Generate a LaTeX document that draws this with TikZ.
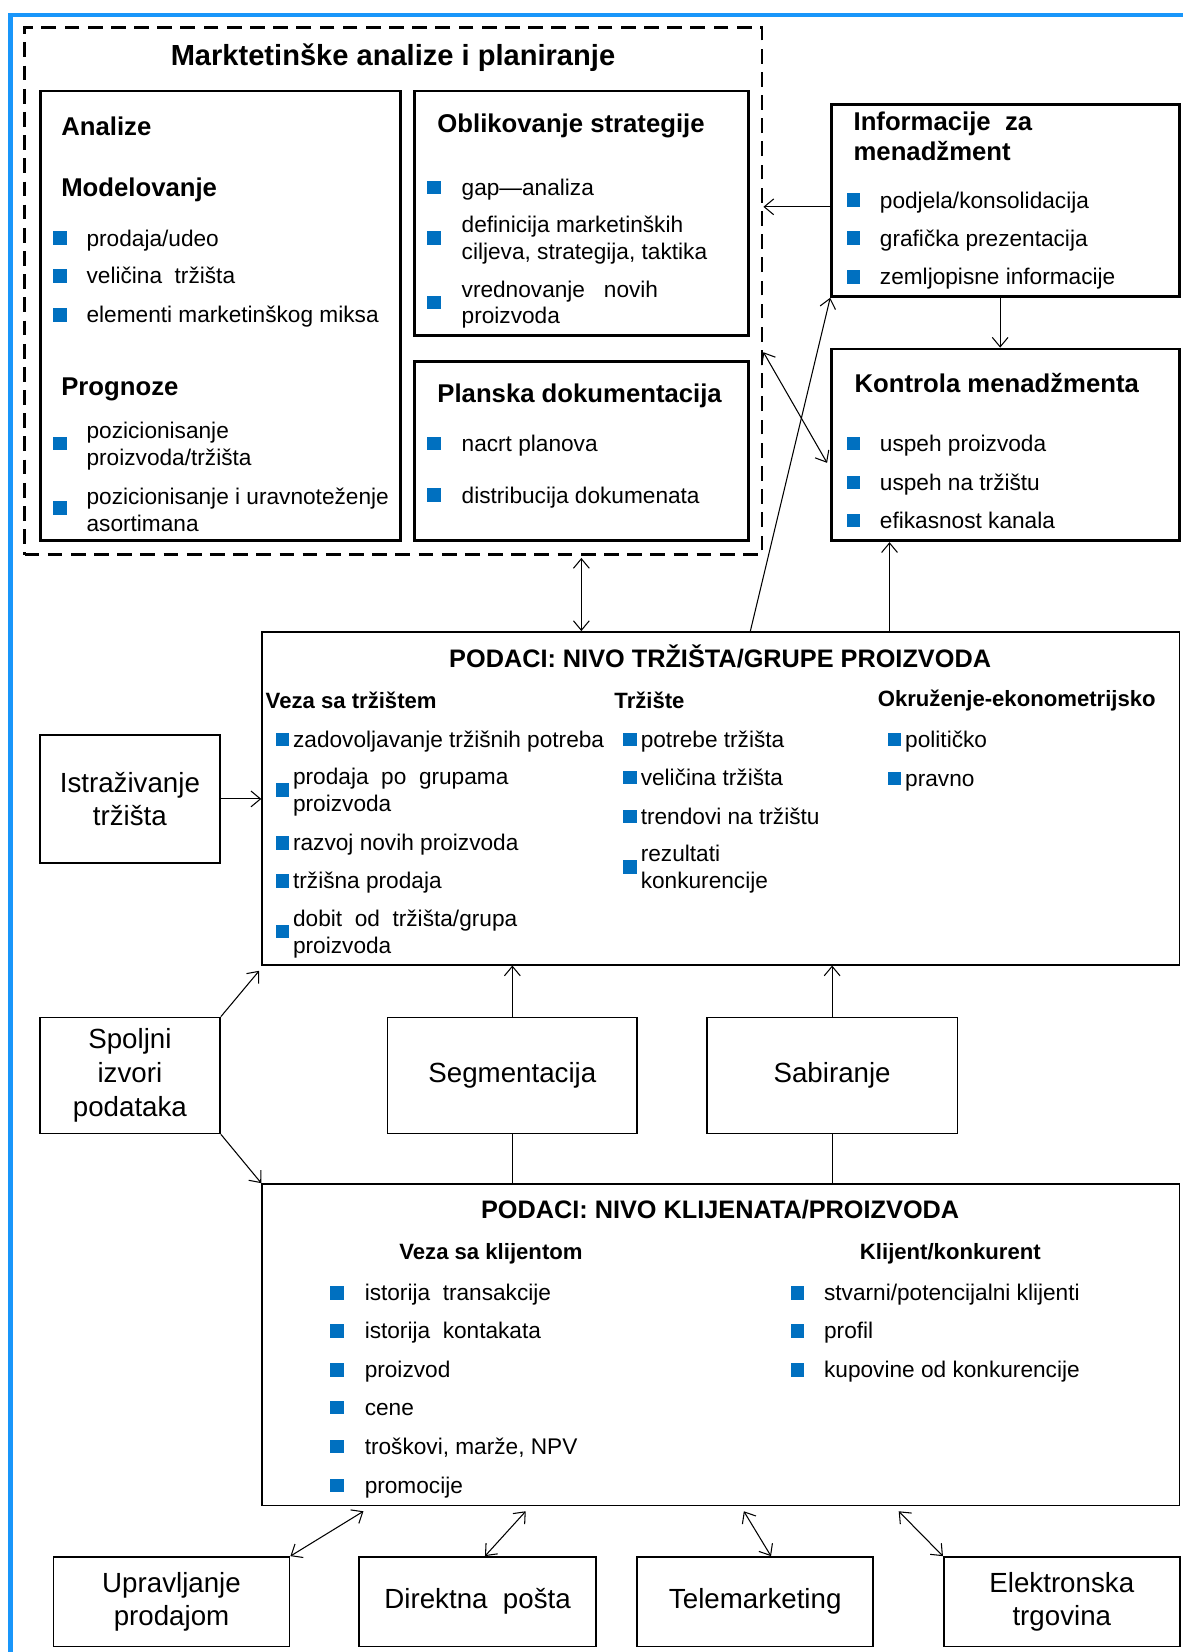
\documentclass[tikz,border=0pt]{standalone}
\usepackage{fontspec}
\setmainfont{Liberation Sans}
\usetikzlibrary{arrows.meta, positioning, calc}

\definecolor{frameblue}{RGB}{25,150,250}
\definecolor{bulblue}{RGB}{0,112,192}

% blue square bullet, centred at (x,y)
\newcommand{\bul}[2]{\fill[bulblue] (#1-6.5,#2-6.5) rectangle ++(13,13);}

\tikzset{>={Straight Barb[length=9pt,width=15pt]}}

\begin{document}
\begin{tikzpicture}[x=1pt, y=-1pt,
    thickbox/.style={draw, line width=2.6pt, anchor=north west, inner sep=0pt},
    databox/.style={draw, line width=1.4pt, anchor=north west, inner sep=0pt},
    srcbox/.style={draw, line width=1.6pt, anchor=north west, inner sep=0pt, align=center, font=\fontsize{26.3}{32}\selectfont},
    boxtitle/.style={anchor=west, inner sep=0pt, yshift=-2.5pt, font=\fontsize{24.4}{29}\selectfont\bfseries, align=left},
    datatitle/.style={inner sep=0pt, font=\fontsize{24}{29}\selectfont\bfseries},
    colhead/.style={inner sep=0pt, font=\fontsize{21}{25}\selectfont\bfseries},
    item/.style={anchor=west, inner sep=0pt, font=\fontsize{21.5}{25.5}\selectfont, text height=19pt, text depth=4pt},
    item2/.style={anchor=west, inner sep=0pt, yshift=-2.2pt, font=\fontsize{21.5}{25.5}\selectfont, align=left},
    arrow/.style={->, line width=1pt},
    dblarrow/.style={<->, line width=1pt}
]

\useasboundingbox (0,0) rectangle (1122,1568);

% outer frame
\draw[frameblue, line width=4pt] (10,1575) -- (10,14) -- (1130,14);

% Marketing analyses and planning
\node[draw, line width=2.6pt, dash pattern=on 14pt off 8pt, anchor=north west, minimum width=700, minimum height=500] (mkt) at (22,25) {};
\node[datatitle, font=\fontsize{27.6}{32}\selectfont\bfseries] (mktT) at (373,55) {Marktetinške analize i planiranje};

% Analize
\node[thickbox, minimum width=342, minimum height=427] (ana) at (37,85) {};
\node[boxtitle] (anaT) at (58,117) {Analize};
\node[boxtitle] (modT) at (58,178) {Modelovanje};
\foreach \y/\t in {226/{prodaja/udeo}, 262/{veličina\ \ tržišta}, 299/{elementi marketinškog miksa}}
  {\bul{57}{\y} \node[item] (ana\y) at (82,\y) {\t};}
\node[boxtitle] (proT) at (58,367) {Prognoze};
\bul{57}{421} \node[item2] (pro1) at (82,421) {pozicionisanje\\proizvoda/tržišta};
\bul{57}{482} \node[item2] (pro2) at (82,482) {pozicionisanje i uravnoteženje\\asortimana};

% Oblikovanje strategije
\node[thickbox, minimum width=317, minimum height=232] (obl) at (392,85) {};
\node[boxtitle] (oblT) at (415,117) {Oblikovanje strategije};
\bul{412}{178} \node[item] (obl1) at (438,178) {gap—analiza};
\bul{412}{226} \node[item2] (obl2) at (438,226) {definicija marketinških\\ciljeva, strategija, taktika};
\bul{412}{287} \node[item2] (obl3) at (438,287) {vrednovanje\ \ \ novih\\proizvoda};

% Planska dokumentacija
\node[thickbox, minimum width=317, minimum height=170] (plan) at (392,342) {};
\node[boxtitle] (planT) at (415,373) {Planska dokumentacija};
\foreach \y/\t in {421/{nacrt planova}, 470/{distribucija dokumenata}}
  {\bul{412}{\y} \node[item] (plan\y) at (438,\y) {\t};}

% Informacije za menadzment
\node[thickbox, minimum width=330, minimum height=182] (info) at (788,98) {};
\node[boxtitle, yshift=2pt] (infoT) at (810,129) {Informacije\ \ za\\menadžment};
\foreach \y/\t in {190/{podjela/konsolidacija}, 226/{grafička prezentacija}, 263/{zemljopisne informacije}}
  {\bul{810}{\y} \node[item] (info\y) at (835,\y) {\t};}

% Kontrola menadzmenta
\node[thickbox, minimum width=330, minimum height=182] (kon) at (788,330) {};
\node[boxtitle] (konT) at (811,361) {Kontrola menadžmenta};
\foreach \y/\t in {421/{uspeh proizvoda}, 458/{uspeh na tržištu}, 494/{efikasnost kanala}}
  {\bul{810}{\y} \node[item] (kon\y) at (835,\y) {\t};}

% Podaci: nivo trzista
\node[databox, minimum width=871, minimum height=316] (podT) at (248,599) {};
\node[datatitle] (podTT) at (683.5,623) {PODACI: NIVO TRŽIŠTA/GRUPE PROIZVODA};
\node[colhead, anchor=west] (vezaT) at (252,665) {Veza sa tržištem};
\node[colhead, anchor=west] (trz) at (583,665) {Tržište};
\node[colhead, anchor=west] (okr) at (833,665) {Okruženje-ekonometrijsko};
\foreach \y/\t in {702/{zadovoljavanje tržišnih potreba}, 800/{razvoj novih proizvoda}, 836/{tržišna prodaja}}
  {\bul{268}{\y} \node[item] (vt\y) at (278,\y) {\t};}
\bul{268}{750} \node[item2] (vt750) at (278,750) {prodaja\ \ po\ \ grupama\\proizvoda};
\bul{268}{884} \node[item2] (vt884) at (278,884) {dobit\ \ od\ \ tržišta/grupa\\proizvoda};
\foreach \y/\t in {702/{potrebe tržišta}, 738/{veličina tržišta}, 775/{trendovi na tržištu}}
  {\bul{598}{\y} \node[item] (tr\y) at (608,\y) {\t};}
\bul{598}{823} \node[item2] (tr823) at (608,823) {rezultati\\konkurencije};
\foreach \y/\t in {702/{političko}, 739/{pravno}}
  {\bul{849}{\y} \node[item] (ok\y) at (859,\y) {\t};}

% Sources
\node[srcbox, minimum width=171, minimum height=121] (ist) at (37,697) {Istraživanje\\tržišta};
\node[srcbox, minimum width=171, minimum height=110] (spo) at (37,965) {Spoljni\\izvori\\podataka};
\node[srcbox, minimum width=237, minimum height=110] (seg) at (367,965) {Segmentacija};
\node[srcbox, minimum width=238, minimum height=110] (sab) at (670,965) {Sabiranje};

% Podaci: nivo klijenata
\node[databox, minimum width=871, minimum height=305] (podK) at (248,1123) {};
\node[datatitle] (podKT) at (683.5,1148) {PODACI: NIVO KLIJENATA/PROIZVODA};
\node[colhead] (vezaK) at (466,1190) {Veza sa klijentom};
\node[colhead] (klij) at (902,1190) {Klijent/konkurent};
\foreach \y/\t in {1227/{istorija\ \ transakcije}, 1263/{istorija\ \ kontakata}, 1300/{proizvod}, 1336/{cene}, 1373/{troškovi, marže, NPV}, 1410/{promocije}}
  {\bul{320}{\y} \node[item] (vk\y) at (346,\y) {\t};}
\foreach \y/\t in {1227/{stvarni/potencijalni klijenti}, 1263/{profil}, 1300/{kupovine od konkurencije}}
  {\bul{757}{\y} \node[item] (kk\y) at (782,\y) {\t};}

% Channels
\node[srcbox, minimum width=224, minimum height=85] (upr) at (50,1477) {Upravljanje\\prodajom};
\node[srcbox, minimum width=225, minimum height=85] (dir) at (340,1477) {Direktna\ \ pošta};
\node[srcbox, minimum width=224, minimum height=85] (tel) at (604,1477) {Telemarketing};
\node[srcbox, minimum width=224, minimum height=85] (ele) at (895,1477) {Elektronska\\trgovina};

% connectors
\draw[arrow] ([yshift=-6pt]info.west) -- ([yshift=-6pt]info.west -| mkt.east);
\draw[arrow] ([xshift=-5pt]info.south) -- ([xshift=-5pt]kon.north);
\draw[dblarrow] ([yshift=-58pt]mkt.east) -- ([yshift=-17pt,xshift=-3pt]kon.west);
\draw[arrow] ([xshift=28pt]podT.north) -- (info.south west);
\draw[dblarrow] ([yshift=-2pt]plan.south |- mkt.south) -- (plan.south |- podT.north);
\draw[arrow] ([xshift=-110pt]kon.south |- podT.north) -- ([xshift=-110pt]kon.south);
\draw[arrow] (ist.east) -- (ist.east -| podT.west);
\draw[arrow] (spo.north east) -- ([shift={(-2,5)}]podT.south west);
\draw[arrow] (spo.south east) -- (podK.north west);
\draw[arrow] (seg.north) -- (seg.north |- podT.south);
\draw[line width=1pt] (seg.south) -- (seg.south |- podK.north);
\draw[arrow] (sab.north) -- (sab.north |- podT.south);
\draw[line width=1pt] (sab.south) -- (sab.south |- podK.north);
\draw[dblarrow] (upr.north east) -- ([shift={(97,5)}]podK.south west);
\draw[dblarrow] ([xshift=7pt]dir.north) -- ([shift={(251,5)}]podK.south west);
\draw[dblarrow] ([xshift=15pt]tel.north) -- ([shift={(458,5)}]podK.south west);
\draw[dblarrow] (ele.north west) -- ([shift={(605,5)}]podK.south west);

\end{tikzpicture}
\end{document}
